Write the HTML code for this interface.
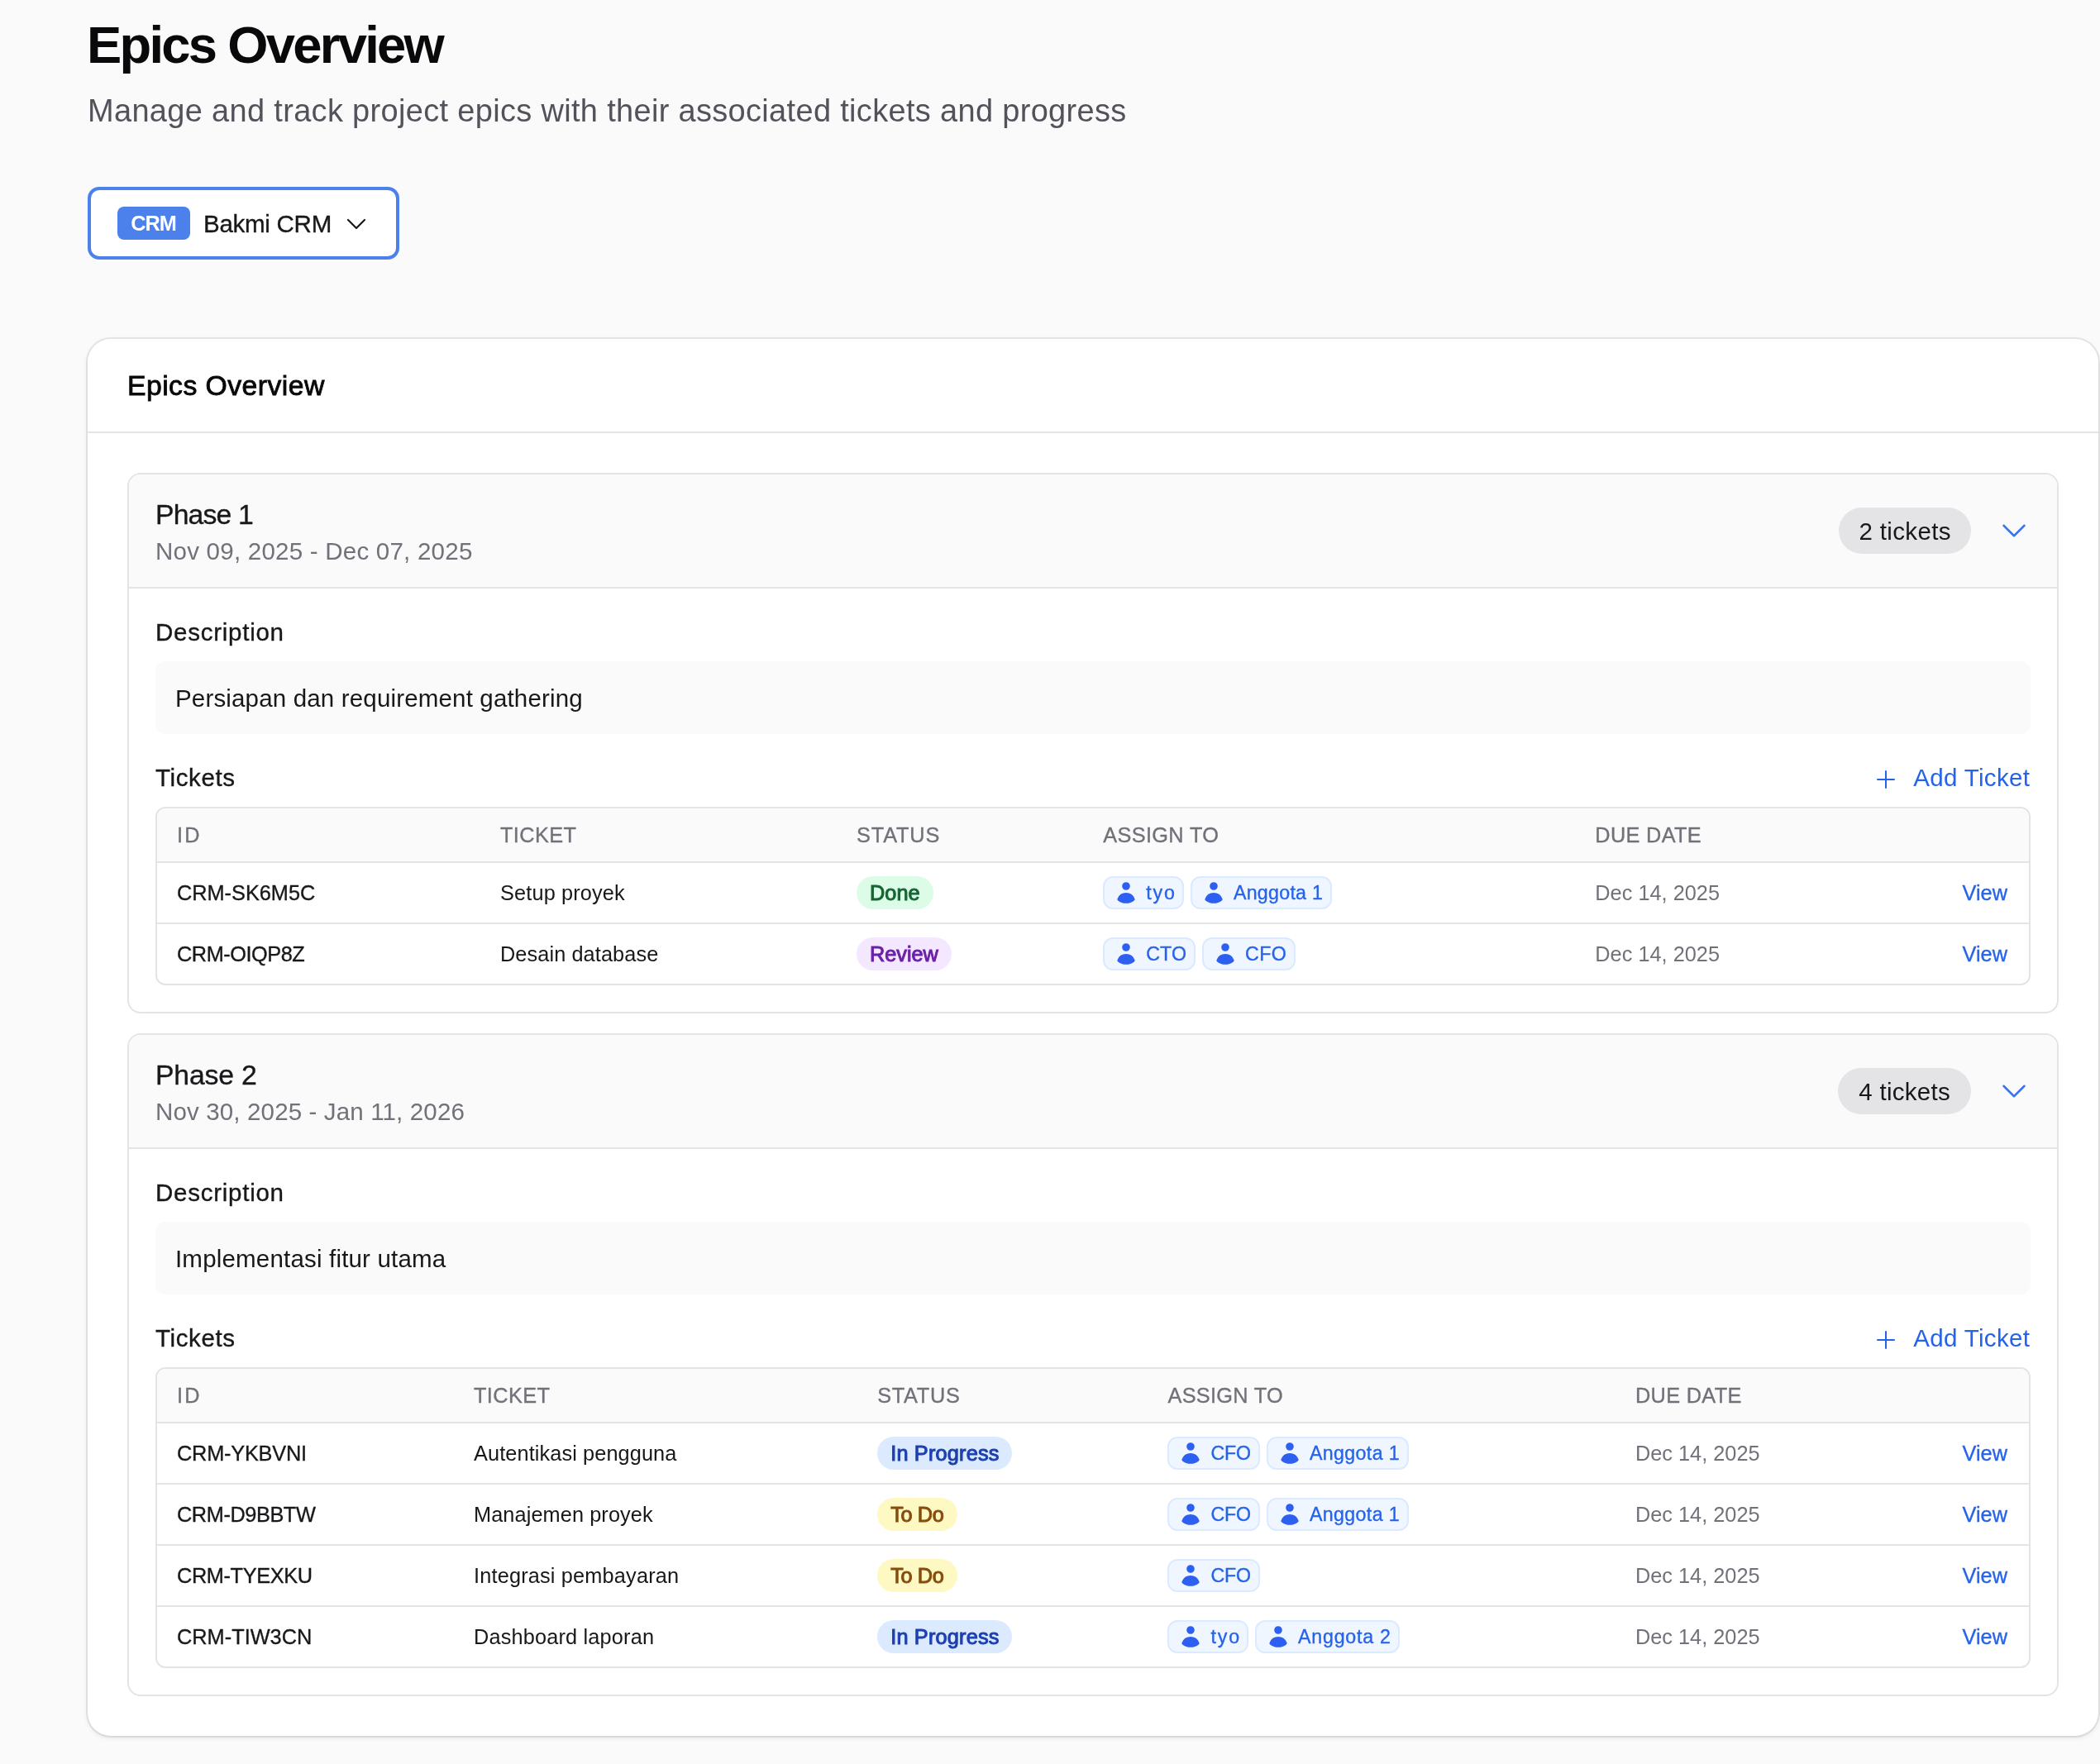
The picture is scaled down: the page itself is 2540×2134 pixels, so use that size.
<!DOCTYPE html>
<html lang="en"><head><meta charset="utf-8"><title>Epics Overview</title>
<style>
html,body{margin:0;padding:0}
body{width:2540px;height:2134px;overflow:hidden;background:#fafafa;font-family:"Liberation Sans",sans-serif;color:#11181c;position:relative;will-change:transform}
*{box-sizing:border-box}
span{white-space:nowrap;position:relative;top:0}
.lbl span,.desc span,.dt span,.add span,.cnt span,.nm span{top:0.8px}
.abs{position:absolute}
.med{-webkit-text-stroke:0.35px currentColor}
.semi{-webkit-text-stroke:0.7px currentColor}
h1{position:absolute;left:105px;top:18px;margin:0;font-size:63.30px;line-height:72px;font-weight:700;color:#09090b;white-space:nowrap}
.sub{position:absolute;left:106px;top:106px;font-size:37.98px;line-height:56px;color:#52525b;white-space:nowrap}
.sel{position:absolute;left:106px;top:226px;width:377px;height:88px;border:4px solid #4c81ec;border-radius:14px;background:#fff;display:flex;align-items:center;padding-left:32px}
.sel .bdg{width:88px;height:40px;border-radius:8px;background:#4c81ec;color:#fff;font-size:25.32px;line-height:40px;text-align:center;font-weight:700}
.sel .nm{margin-left:16px;font-size:29.54px;line-height:40px;color:#18181b}
.sel svg{position:absolute;left:305px;top:24.5px}
.card{position:absolute;left:106px;top:410px;width:2432px;height:1690px;background:#fff;border-radius:28px;box-shadow:0 0 0 2px rgba(0,0,0,.075),0 2px 6px rgba(0,0,0,.1)}
.card .hd{position:absolute;left:0;top:0;right:0;height:114px;border-bottom:2px solid #e4e4e7;padding:0 48px;font-size:33.76px;line-height:112px;font-weight:400;-webkit-text-stroke:0.85px currentColor;color:#09090b}
.ph{position:absolute;left:48px;width:2336px;border:2px solid #e4e4e7;border-radius:16px;background:#fff;overflow:hidden}
.ph .top{height:138px;background:#fafafa;border-bottom:2px solid #e4e4e7;padding:24px 32px;position:relative}
.ph .ttl{font-size:33.76px;line-height:48px;color:#18181b}
.ph .dt{font-size:29.54px;line-height:40px;color:#71717a}
.ph .cnt{position:absolute;left:2068px;top:40px;width:160px;height:56px;border-radius:28px;background:#e4e4e7;font-size:29.54px;line-height:56px;text-align:center;color:#18181b}
.ph .chev{position:absolute;left:2260px;top:48px}
.ph .body{padding:32px}
.lbl{font-size:29.54px;line-height:40px;color:#18181b}
.desc{margin-top:16px;height:88px;border-radius:12px;background:#fafafa;padding:24px;font-size:29.54px;line-height:40px;color:#18181b}
.trow{margin-top:32px;height:40px;display:flex;justify-content:space-between;align-items:center}
.add{display:flex;align-items:center;color:#2563eb;font-size:29.54px;line-height:40px}
.add{margin-right:1px}
.add svg{margin-right:17px;position:relative;top:3px}
table{margin-top:16px;width:2268px;border-collapse:separate;border-spacing:0;border:2px solid #e4e4e7;border-radius:12px;overflow:hidden;table-layout:fixed}
th{height:66px;background:#fafafa;border-bottom:2px solid #e4e4e7;text-align:left;padding:0 24px;font-size:25.32px;font-weight:400;color:#71717a;letter-spacing:1.2px}
td{height:74px;border-bottom:2px solid #e4e4e7;padding:0 24px;font-size:25.32px;color:#18181b;white-space:nowrap}
tr:last-child td{border-bottom:0;height:72px}
td.due{color:#71717a}
td.vw{text-align:right;color:#2563eb;padding-right:26px}
.pill{display:inline-block;height:40px;line-height:40px;border-radius:20px;padding:0 16px;font-size:25.32px;font-weight:400;-webkit-text-stroke:1px currentColor;vertical-align:middle}
.done{background:#dcfce7;color:#166534}
.review{background:#f3e8ff;color:#6b21a8}
.prog{background:#dbeafe;color:#1e40af}
.todo{background:#fef9c3;color:#854d0e}
.chips{display:flex;gap:8px;align-items:center}
.chip{display:flex;align-items:center;height:40px;border:2px solid #dbeafe;border-radius:12px;background:#eff6ff;color:#2563eb;padding:0 9px 0 10px;font-size:23.21px;line-height:32px}
.chip svg{margin-right:8px;flex:none}
</style></head>
<body>
<h1><span id="h1" style="letter-spacing:-2.70px;margin-right:2.70px">Epics Overview</span></h1>
<div class="sub"><span id="sub" style="letter-spacing:0.33px;margin-right:-0.33px">Manage and track project epics with their associated tickets and progress</span></div>
<div class="sel"><div class="bdg"><span id="bdg" style="letter-spacing:-1.02px;margin-right:1.02px">CRM</span></div><div class="nm"><span id="nm" class="med" style="letter-spacing:-0.28px;margin-right:0.28px">Bakmi CRM</span></div><svg width="32" height="32" viewBox="0 0 24 24" fill="none" stroke="#18181b" stroke-width="1.6" stroke-linecap="round" stroke-linejoin="round"><path d="M19.5 8.25l-7.5 7.5-7.5-7.5"/></svg></div>
<div class="card"><div class="hd"><span id="chd" style="letter-spacing:0.44px;margin-right:-0.44px">Epics Overview</span></div>
<div class="ph" style="top:162px">
<div class="top"><div class="ttl"><span id="p1ttl" class="med" style="letter-spacing:-0.83px;margin-right:0.83px">Phase 1</span></div><div class="dt"><span id="p1dt" style="letter-spacing:0.22px;margin-right:-0.22px">Nov 09, 2025 - Dec 07, 2025</span></div>
<div class="cnt"><span id="p1cnt" style="letter-spacing:0.36px;margin-right:-0.36px">2 tickets</span></div><svg class="chev" width="40" height="40" viewBox="0 0 24 24" fill="none" stroke="#3b74f0" stroke-width="1.5" stroke-linecap="round" stroke-linejoin="round"><path d="M19.5 8.25l-7.5 7.5-7.5-7.5"/></svg></div>
<div class="body"><div class="lbl"><span id="p1dl" class="med" style="letter-spacing:0.73px;margin-right:-0.73px">Description</span></div>
<div class="desc"><span id="p1ds" style="letter-spacing:0.15px;margin-right:-0.15px">Persiapan dan requirement gathering</span></div>
<div class="trow"><div class="lbl"><span id="p1tl" class="med" style="letter-spacing:0.61px;margin-right:-0.61px">Tickets</span></div><div class="add"><svg width="32" height="32" viewBox="0 0 24 24" fill="none" stroke="#2563eb" stroke-width="1.5" stroke-linecap="round" stroke-linejoin="round"><path d="M12 4.5v15m7.5-7.5h-15"/></svg><span id="p1add" style="letter-spacing:0.33px;margin-right:-0.33px">Add Ticket</span></div></div>
<table><colgroup><col style="width:391px"><col style="width:431px"><col style="width:298.29999999999995px"><col style="width:595.0px"><col style="width:369.70000000000005px"><col style="width:179px"></colgroup><thead><tr><th><span id="p1h0" class="med" style="letter-spacing:2.28px;margin-right:-2.28px">ID</span></th><th><span id="p1h1" class="med" style="letter-spacing:0.39px;margin-right:-0.39px">TICKET</span></th><th><span id="p1h2" class="med" style="letter-spacing:0.84px;margin-right:-0.84px">STATUS</span></th><th><span id="p1h3" class="med" style="letter-spacing:0.34px;margin-right:-0.34px">ASSIGN TO</span></th><th><span id="p1h4" class="med" style="letter-spacing:0.32px;margin-right:-0.32px">DUE DATE</span></th><th></th></tr></thead><tbody><tr><td><span id="p1id0" class="med" style="letter-spacing:-0.01px;margin-right:0.01px">CRM-SK6M5C</span></td><td><span id="p1tk0" style="letter-spacing:0.14px;margin-right:-0.14px">Setup proyek</span></td><td><span class="pill done"><span id="p1st0" style="letter-spacing:0.06px;margin-right:-0.06px">Done</span></span></td><td><div class="chips"><div class="chip"><svg width="32" height="32" viewBox="0 0 20 20" fill="#2d60f0"><path d="M10 8a3 3 0 100-6 3 3 0 000 6zM3.465 14.493a1.23 1.23 0 00.41 1.412A9.957 9.957 0 0010 18c2.31 0 4.438-.784 6.131-2.1.43-.333.604-.903.408-1.41a7.002 7.002 0 00-13.074.003z"/></svg><span id="p1c0_0" class="med" style="letter-spacing:1.81px;margin-right:-1.81px">tyo</span></div><div class="chip"><svg width="32" height="32" viewBox="0 0 20 20" fill="#2d60f0"><path d="M10 8a3 3 0 100-6 3 3 0 000 6zM3.465 14.493a1.23 1.23 0 00.41 1.412A9.957 9.957 0 0010 18c2.31 0 4.438-.784 6.131-2.1.43-.333.604-.903.408-1.41a7.002 7.002 0 00-13.074.003z"/></svg><span id="p1c0_1" class="med" style="letter-spacing:0.28px;margin-right:-0.28px">Anggota 1</span></div></div></td><td class="due"><span id="p1du0" style="letter-spacing:0.01px;margin-right:-0.01px">Dec 14, 2025</span></td><td class="vw"><span id="p1vw0" class="med" style="letter-spacing:0.03px;margin-right:-0.03px">View</span></td></tr><tr><td><span id="p1id1" class="med" style="letter-spacing:-0.46px;margin-right:0.46px">CRM-OIQP8Z</span></td><td><span id="p1tk1" style="letter-spacing:0.09px;margin-right:-0.09px">Desain database</span></td><td><span class="pill review"><span id="p1st1" style="letter-spacing:-0.04px;margin-right:0.04px">Review</span></span></td><td><div class="chips"><div class="chip"><svg width="32" height="32" viewBox="0 0 20 20" fill="#2d60f0"><path d="M10 8a3 3 0 100-6 3 3 0 000 6zM3.465 14.493a1.23 1.23 0 00.41 1.412A9.957 9.957 0 0010 18c2.31 0 4.438-.784 6.131-2.1.43-.333.604-.903.408-1.41a7.002 7.002 0 00-13.074.003z"/></svg><span id="p1c1_0" class="med" style="letter-spacing:0.06px;margin-right:-0.06px">CTO</span></div><div class="chip"><svg width="32" height="32" viewBox="0 0 20 20" fill="#2d60f0"><path d="M10 8a3 3 0 100-6 3 3 0 000 6zM3.465 14.493a1.23 1.23 0 00.41 1.412A9.957 9.957 0 0010 18c2.31 0 4.438-.784 6.131-2.1.43-.333.604-.903.408-1.41a7.002 7.002 0 00-13.074.003z"/></svg><span id="p1c1_1" class="med" style="letter-spacing:0.39px;margin-right:-0.39px">CFO</span></div></div></td><td class="due"><span id="p1du1" style="letter-spacing:0.01px;margin-right:-0.01px">Dec 14, 2025</span></td><td class="vw"><span id="p1vw1" class="med" style="letter-spacing:0.03px;margin-right:-0.03px">View</span></td></tr></tbody></table>
</div></div>
<div class="ph" style="top:840px">
<div class="top"><div class="ttl"><span id="p2ttl" class="med" style="letter-spacing:-0.19px;margin-right:0.19px">Phase 2</span></div><div class="dt"><span id="p2dt" style="letter-spacing:0.13px;margin-right:-0.13px">Nov 30, 2025 - Jan 11, 2026</span></div>
<div class="cnt" style="left:2067px;width:161px"><span id="p2cnt" style="letter-spacing:0.29px;margin-right:-0.29px">4 tickets</span></div><svg class="chev" width="40" height="40" viewBox="0 0 24 24" fill="none" stroke="#3b74f0" stroke-width="1.5" stroke-linecap="round" stroke-linejoin="round"><path d="M19.5 8.25l-7.5 7.5-7.5-7.5"/></svg></div>
<div class="body"><div class="lbl"><span id="p2dl" class="med" style="letter-spacing:0.73px;margin-right:-0.73px">Description</span></div>
<div class="desc"><span id="p2ds" style="letter-spacing:0.17px;margin-right:-0.17px">Implementasi fitur utama</span></div>
<div class="trow"><div class="lbl"><span id="p2tl" class="med" style="letter-spacing:0.61px;margin-right:-0.61px">Tickets</span></div><div class="add"><svg width="32" height="32" viewBox="0 0 24 24" fill="none" stroke="#2563eb" stroke-width="1.5" stroke-linecap="round" stroke-linejoin="round"><path d="M12 4.5v15m7.5-7.5h-15"/></svg><span id="p2add" style="letter-spacing:0.33px;margin-right:-0.33px">Add Ticket</span></div></div>
<table><colgroup><col style="width:359px"><col style="width:488.20000000000005px"><col style="width:351.29999999999995px"><col style="width:565.5px"><col style="width:321px"><col style="width:179px"></colgroup><thead><tr><th><span id="p2h0" class="med" style="letter-spacing:2.28px;margin-right:-2.28px">ID</span></th><th><span id="p2h1" class="med" style="letter-spacing:0.39px;margin-right:-0.39px">TICKET</span></th><th><span id="p2h2" class="med" style="letter-spacing:0.71px;margin-right:-0.71px">STATUS</span></th><th><span id="p2h3" class="med" style="letter-spacing:0.28px;margin-right:-0.28px">ASSIGN TO</span></th><th><span id="p2h4" class="med" style="letter-spacing:0.32px;margin-right:-0.32px">DUE DATE</span></th><th></th></tr></thead><tbody><tr><td><span id="p2id0" class="med" style="letter-spacing:-0.21px;margin-right:0.21px">CRM-YKBVNI</span></td><td><span id="p2tk0" style="letter-spacing:0.10px;margin-right:-0.10px">Autentikasi pengguna</span></td><td><span class="pill prog"><span id="p2st0" style="letter-spacing:0.18px;margin-right:-0.18px">In Progress</span></span></td><td><div class="chips"><div class="chip"><svg width="32" height="32" viewBox="0 0 20 20" fill="#2d60f0"><path d="M10 8a3 3 0 100-6 3 3 0 000 6zM3.465 14.493a1.23 1.23 0 00.41 1.412A9.957 9.957 0 0010 18c2.31 0 4.438-.784 6.131-2.1.43-.333.604-.903.408-1.41a7.002 7.002 0 00-13.074.003z"/></svg><span id="p2c0_0" class="med" style="letter-spacing:-0.25px;margin-right:0.25px">CFO</span></div><div class="chip"><svg width="32" height="32" viewBox="0 0 20 20" fill="#2d60f0"><path d="M10 8a3 3 0 100-6 3 3 0 000 6zM3.465 14.493a1.23 1.23 0 00.41 1.412A9.957 9.957 0 0010 18c2.31 0 4.438-.784 6.131-2.1.43-.333.604-.903.408-1.41a7.002 7.002 0 00-13.074.003z"/></svg><span id="p2c0_1" class="med" style="letter-spacing:0.36px;margin-right:-0.36px">Anggota 1</span></div></div></td><td class="due"><span id="p2du0" style="letter-spacing:0.00px;margin-right:-0.00px">Dec 14, 2025</span></td><td class="vw"><span id="p2vw0" class="med" style="letter-spacing:0.03px;margin-right:-0.03px">View</span></td></tr><tr><td><span id="p2id1" class="med" style="letter-spacing:-0.42px;margin-right:0.42px">CRM-D9BBTW</span></td><td><span id="p2tk1" style="letter-spacing:0.09px;margin-right:-0.09px">Manajemen proyek</span></td><td><span class="pill todo"><span id="p2st1" style="letter-spacing:-0.39px;margin-right:0.39px">To Do</span></span></td><td><div class="chips"><div class="chip"><svg width="32" height="32" viewBox="0 0 20 20" fill="#2d60f0"><path d="M10 8a3 3 0 100-6 3 3 0 000 6zM3.465 14.493a1.23 1.23 0 00.41 1.412A9.957 9.957 0 0010 18c2.31 0 4.438-.784 6.131-2.1.43-.333.604-.903.408-1.41a7.002 7.002 0 00-13.074.003z"/></svg><span id="p2c1_0" class="med" style="letter-spacing:-0.25px;margin-right:0.25px">CFO</span></div><div class="chip"><svg width="32" height="32" viewBox="0 0 20 20" fill="#2d60f0"><path d="M10 8a3 3 0 100-6 3 3 0 000 6zM3.465 14.493a1.23 1.23 0 00.41 1.412A9.957 9.957 0 0010 18c2.31 0 4.438-.784 6.131-2.1.43-.333.604-.903.408-1.41a7.002 7.002 0 00-13.074.003z"/></svg><span id="p2c1_1" class="med" style="letter-spacing:0.36px;margin-right:-0.36px">Anggota 1</span></div></div></td><td class="due"><span id="p2du1" style="letter-spacing:0.00px;margin-right:-0.00px">Dec 14, 2025</span></td><td class="vw"><span id="p2vw1" class="med" style="letter-spacing:0.03px;margin-right:-0.03px">View</span></td></tr><tr><td><span id="p2id2" class="med" style="letter-spacing:-0.38px;margin-right:0.38px">CRM-TYEXKU</span></td><td><span id="p2tk2" style="letter-spacing:0.17px;margin-right:-0.17px">Integrasi pembayaran</span></td><td><span class="pill todo"><span id="p2st2" style="letter-spacing:-0.39px;margin-right:0.39px">To Do</span></span></td><td><div class="chips"><div class="chip"><svg width="32" height="32" viewBox="0 0 20 20" fill="#2d60f0"><path d="M10 8a3 3 0 100-6 3 3 0 000 6zM3.465 14.493a1.23 1.23 0 00.41 1.412A9.957 9.957 0 0010 18c2.31 0 4.438-.784 6.131-2.1.43-.333.604-.903.408-1.41a7.002 7.002 0 00-13.074.003z"/></svg><span id="p2c2_0" class="med" style="letter-spacing:-0.25px;margin-right:0.25px">CFO</span></div></div></td><td class="due"><span id="p2du2" style="letter-spacing:0.00px;margin-right:-0.00px">Dec 14, 2025</span></td><td class="vw"><span id="p2vw2" class="med" style="letter-spacing:0.03px;margin-right:-0.03px">View</span></td></tr><tr><td><span id="p2id3" class="med" style="letter-spacing:0.02px;margin-right:-0.02px">CRM-TIW3CN</span></td><td><span id="p2tk3" style="letter-spacing:0.17px;margin-right:-0.17px">Dashboard laporan</span></td><td><span class="pill prog"><span id="p2st3" style="letter-spacing:0.18px;margin-right:-0.18px">In Progress</span></span></td><td><div class="chips"><div class="chip"><svg width="32" height="32" viewBox="0 0 20 20" fill="#2d60f0"><path d="M10 8a3 3 0 100-6 3 3 0 000 6zM3.465 14.493a1.23 1.23 0 00.41 1.412A9.957 9.957 0 0010 18c2.31 0 4.438-.784 6.131-2.1.43-.333.604-.903.408-1.41a7.002 7.002 0 00-13.074.003z"/></svg><span id="p2c3_0" class="med" style="letter-spacing:1.83px;margin-right:-1.83px">tyo</span></div><div class="chip"><svg width="32" height="32" viewBox="0 0 20 20" fill="#2d60f0"><path d="M10 8a3 3 0 100-6 3 3 0 000 6zM3.465 14.493a1.23 1.23 0 00.41 1.412A9.957 9.957 0 0010 18c2.31 0 4.438-.784 6.131-2.1.43-.333.604-.903.408-1.41a7.002 7.002 0 00-13.074.003z"/></svg><span id="p2c3_1" class="med" style="letter-spacing:0.76px;margin-right:-0.76px">Anggota 2</span></div></div></td><td class="due"><span id="p2du3" style="letter-spacing:0.00px;margin-right:-0.00px">Dec 14, 2025</span></td><td class="vw"><span id="p2vw3" class="med" style="letter-spacing:0.03px;margin-right:-0.03px">View</span></td></tr></tbody></table>
</div></div>
</div>
</body></html>
